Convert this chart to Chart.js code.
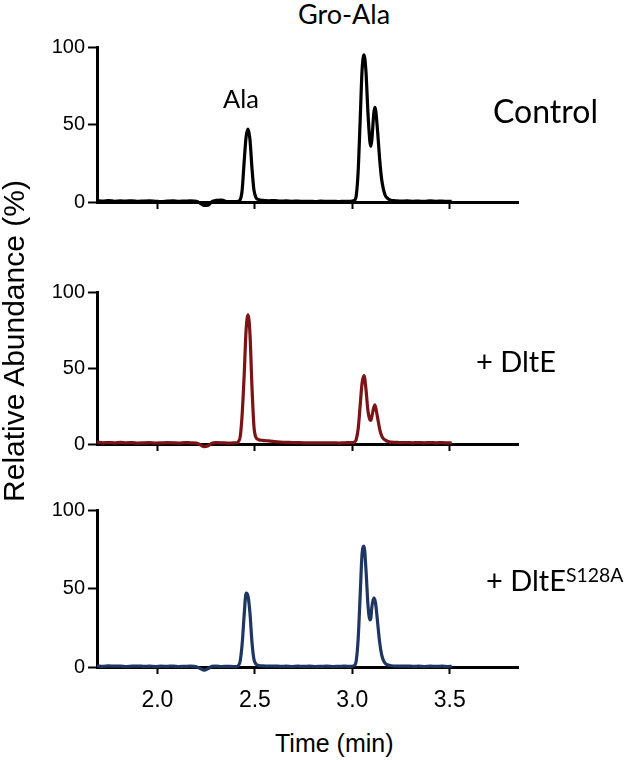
<!DOCTYPE html>
<html>
<head>
<meta charset="utf-8">
<script src="https://cdn.jsdelivr.net/npm/chart.js@4.4.1/dist/chart.umd.min.js"></script>
<style>
  body { margin: 0; width: 631px; height: 760px; position: relative; background: #fff; overflow: hidden; }
  .panel { position: absolute; left: 0; width: 631px; }
  .lbl { position: absolute; font-family: Lato, sans-serif; color: #000; white-space: nowrap; line-height: 1; }
  .ax { position: absolute; font-family: "Liberation Sans", Arial, sans-serif; color: #000; white-space: nowrap; line-height: 1; }
  sup { font-size: 0.67em; vertical-align: 0; position: relative; top: -0.45em; }
</style>
</head>
<body>
<div class="panel" style="top:32px;height:185px"><canvas id="c1"></canvas></div>
<div class="panel" style="top:277px;height:182px"><canvas id="c2"></canvas></div>
<div class="panel" style="top:495px;height:222px"><canvas id="c3"></canvas></div>

<div class="lbl" style="left:298px;top:0px;font-size:27px">Gro-Ala</div>
<div class="lbl" style="left:223px;top:86px;font-size:25.5px">Ala</div>
<div class="lbl" style="left:493px;top:95px;font-size:32px">Control</div>
<div class="lbl" style="left:476px;top:346px;font-size:29px">+ DltE</div>
<div class="lbl" style="left:486px;top:565px;font-size:29px">+ DltE<sup>S128A</sup></div>

<div class="ax" style="left:275px;top:731px;font-size:25px">Time (min)</div>
<div class="ax" style="left:-186px;top:326px;width:400px;text-align:center;font-size:30px;transform:rotate(-90deg)">Relative Abundance (%)</div>

<script>
// retention time (min), shared by all three traces
const times = [
  1.69, 1.72, 1.75, 1.78, 1.81, 1.84, 1.87, 1.90, 1.93, 1.96, 1.99, 2.02, 2.05,
  2.08, 2.11, 2.14, 2.17, 2.20, 2.22, 2.24, 2.26, 2.28, 2.30, 2.33, 2.36, 2.39,
  2.405, 2.415, 2.425, 2.435, 2.445, 2.455, 2.465, 2.475, 2.485, 2.495, 2.505, 2.52,
  2.54, 2.57, 2.60, 2.63, 2.66, 2.69, 2.72, 2.75, 2.78, 2.81, 2.84, 2.87, 2.90, 2.93, 2.96, 2.99,
  3.01, 3.02, 3.03, 3.04, 3.05, 3.06, 3.07, 3.08, 3.09, 3.095, 3.10, 3.11, 3.115,
  3.12, 3.13, 3.14, 3.15, 3.16, 3.17, 3.18, 3.19, 3.20,
  3.22, 3.25, 3.28, 3.31, 3.34, 3.37, 3.40, 3.43, 3.46, 3.49, 3.51
];

// relative abundance (%)
const control = [
  0.8, 0.6, 0.9, 0.5, 0.7, 0.6, 0.8, 0.4, 0.6, 0.7, 0.5, 0.3, 0.6,
  0.8, 0.5, 0.6, 0.7, 0.4, -0.8, -2.2, -2.0, 0.3, 1.0, 1.2, 0.2, 0.3,
  0.3, 0.5, 1.5, 8, 26, 42, 47, 40, 22, 8, 3, 1.5,
  1.0, 0.8, 0.9, 0.6, 0.7, 0.5, 0.6, 0.4, 0.5, 0.3, 0.6, 0.4, 0.5, 0.3, 0.5, 0.4,
  1.0, 4, 20, 52, 85, 95, 84, 58, 39, 36, 40, 57, 61,
  59, 45, 28, 15, 8, 4, 2.5, 1.5, 1.0,
  0.8, 0.6, 0.7, 0.5, 0.6, 0.4, 0.7, 0.5, 0.6, 0.4, 0.5
];
const dltE = [
  1.2, 0.8, 1.0, 0.7, 1.1, 0.8, 0.9, 0.6, 0.8, 0.9, 0.6, 0.7, 0.9,
  0.8, 0.6, 0.9, 0.8, 0.6, -0.5, -1.8, -1.2, 0.5, 0.9, 0.8, 0.6, 0.7,
  0.8, 1.5, 5, 20, 45, 75, 85, 72, 38, 12, 4.5, 2.8,
  2.4, 2.0, 1.6, 1.3, 1.1, 1.0, 0.9, 0.8, 0.8, 0.7, 0.8, 0.7, 0.8, 0.6, 0.8, 0.9,
  1.2, 3, 10, 25, 40, 45, 36, 22, 16, 15.5, 18, 24, 25.7,
  24, 17, 10, 5.5, 3.5, 2.5, 1.8, 1.4, 1.2,
  1.1, 0.9, 1.0, 0.8, 0.9, 0.8, 1.0, 0.8, 0.9, 0.7, 0.8
];
const dltES128A = [
  0.6, 0.4, 0.7, 0.5, 0.6, 0.3, 0.5, 0.6, 0.4, 0.5, 0.3, 0.5, 0.4,
  0.6, 0.3, 0.4, 0.5, 0.2, -1.0, -2.0, -1.0, 0.4, 0.6, 0.3, 0.4, 0.3,
  0.3, 0.8, 4, 15, 33, 47, 45, 34, 16, 5, 2, 1.0,
  0.7, 0.5, 0.6, 0.4, 0.5, 0.3, 0.5, 0.4, 0.5, 0.3, 0.4, 0.5, 0.3, 0.4, 0.5, 0.4,
  1.0, 4, 18, 45, 72, 77, 62, 40, 30, 31, 38, 44, 43,
  40, 28, 16, 8, 4, 2.2, 1.4, 1.0, 0.8,
  0.6, 0.5, 0.6, 0.4, 0.5, 0.3, 0.5, 0.4, 0.5, 0.3, 0.4
];

const xTicks = [2.0, 2.5, 3.0, 3.5];
const yTicks = [0, 50, 100];
const xMin = 1.69, xMax = 3.85;

const fontFamily = "'Liberation Sans', Arial, sans-serif";

function makePanel(id, values, color, showLabels) {
  const ctx = document.getElementById(id).getContext("2d");
  return new Chart(ctx, {
    type: "line",
    data: {
      datasets: [{
        data: times.map((t, i) => ({ x: t, y: values[i] })),
        borderColor: color,
        borderWidth: 3.2,
        pointRadius: 0,
        fill: false,
        cubicInterpolationMode: "monotone",
        clip: false,
      }],
    },
    options: {
      responsive: true,
      maintainAspectRatio: false,
      animation: false,
      layout: { padding: { top: 14, right: 113, left: 0, bottom: 0 } },
      plugins: { legend: { display: false }, tooltip: { enabled: false } },
      scales: {
        x: {
          type: "linear",
          min: xMin,
          max: xMax,
          afterBuildTicks: (s) => { s.ticks = xTicks.map((v) => ({ value: v })); },
          afterFit: (s) => { s.height = showLabels ? 50 : 12; },
          grid: { drawOnChartArea: false, tickLength: 7, tickWidth: 2, tickColor: "#000" },
          border: { color: "#000", width: 3 },
          ticks: {
            display: showLabels,
            color: "#000",
            font: { family: fontFamily, size: 23 },
            padding: 13,
            maxRotation: 0,
            callback: (v) => Number(v).toFixed(1),
          },
        },
        y: {
          min: 0,
          max: 100,
          afterBuildTicks: (s) => { s.ticks = yTicks.map((v) => ({ value: v })); },
          afterFit: (s) => { s.width = 97; },
          grid: { drawOnChartArea: false, tickLength: 9, tickWidth: 2, tickColor: "#000" },
          border: { color: "#000", width: 3 },
          ticks: { color: "#000", font: { family: fontFamily, size: 20 }, padding: 3 },
        },
      },
    },
  });
}

makePanel("c1", control, "#000000", false);
makePanel("c2", dltE, "#7a1416", false);
makePanel("c3", dltES128A, "#1f3562", true);
</script>
</body>
</html>
